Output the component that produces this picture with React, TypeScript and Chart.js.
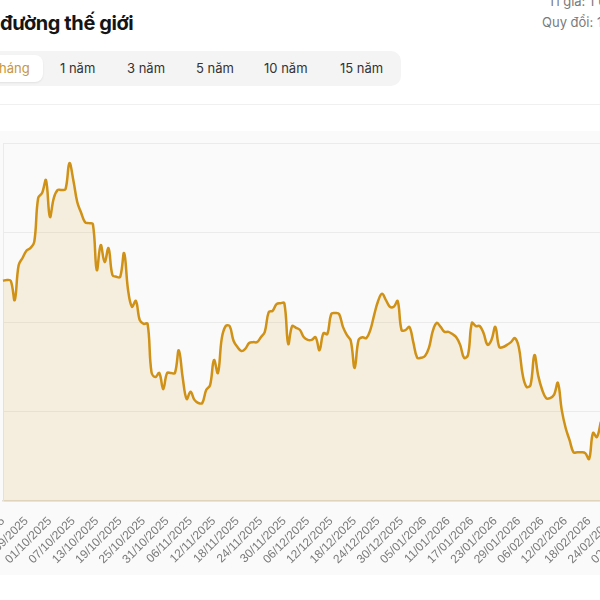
import React, { useEffect, useRef } from "react";
import { Chart, registerables } from "chart.js";

Chart.register(...registerables);

// ---- data ----
const START_DATE = [2025, 9, 19]; // first category (19/09/2025)
const MISSING_DATES = ["31/01/2026", "01/02/2026"]; // days absent from the series
const LABEL_COUNT = 163; // categories through 02/03/2026
const TICK_EVERY = 6;

// world sugar price (USD/tấn), one value per category
const prices = [
  449.2, 449.4, 449.2, 444.9, 452.7, 454.3, 455.9, 456.5, 457.9, 467.7,
  468.8, 471.7, 463.5, 467.7, 469.5, 469.5, 469.7, 475.5, 471.7, 466.8,
  464.4, 462.3, 462.1, 461.9, 451.6, 457.2, 453.4, 456.5, 450.5, 450.1,
  450.1, 455.4, 447.2, 443.4, 444.7, 440.4, 439.6, 439.6, 428.8, 427.7,
  428.6, 425.0, 428.6, 428.6, 428.6, 433.7, 427.5, 422.8, 424.4, 422.6,
  421.9, 421.9, 424.8, 425.9, 431.5, 428.6, 436.4, 439.1, 439.1, 435.8,
  434.4, 433.5, 434.0, 435.3, 435.5, 435.5, 436.6, 437.8, 442.2, 442.5,
  444.0, 444.2, 444.2, 435.1, 439.1, 438.7, 438.2, 436.6, 436.0, 436.0,
  436.6, 433.7, 437.5, 437.3, 441.8, 442.0, 441.8, 438.9, 437.1, 435.8,
  429.7, 436.0, 436.6, 436.4, 438.2, 441.6, 444.7, 446.3, 444.9, 443.4,
  443.4, 444.7, 438.2, 438.2, 438.9, 435.5, 432.0, 432.0, 432.4, 434.2,
  438.0, 439.8, 438.9, 437.8, 437.8, 437.3, 436.6, 434.9, 432.0, 432.6,
  439.8, 439.1, 439.1, 437.5, 434.9, 436.0, 438.9, 434.4, 434.4, 434.9,
  435.5, 436.4, 434.4, 428.2, 425.5, 425.9, 432.6, 427.9, 424.8, 423.0,
  423.0, 423.7, 426.4, 420.3, 416.3, 413.6, 410.9, 410.9, 410.9, 410.7,
  409.4, 415.2, 414.3, 417.7,
];

const Y_MIN = 400;
const Y_MAX = 480;
const Y_STEP = 20;

const TABS = ["6 tháng", "1 năm", "3 năm", "5 năm", "10 năm", "15 năm"];
const TITLE = "đường thế giới";
const RATE_LINE = "Tỉ giá: 1 USD";
const CONVERT_LINE = "Quy đổi: 1 tấn";

function pad(n: number) {
  return n < 10 ? "0" + n : String(n);
}

function buildLabels(): string[] {
  const out: string[] = [];
  const d = new Date(Date.UTC(START_DATE[0], START_DATE[1] - 1, START_DATE[2]));
  while (out.length < LABEL_COUNT) {
    const s = `${pad(d.getUTCDate())}/${pad(d.getUTCMonth() + 1)}/${d.getUTCFullYear()}`;
    if (!MISSING_DATES.includes(s)) out.push(s);
    d.setUTCDate(d.getUTCDate() + 1);
  }
  return out;
}

const labels = buildLabels();

export default function App() {
  const ref = useRef<HTMLCanvasElement | null>(null);

  useEffect(() => {
    if (!ref.current) return;
    const series = labels.map((_, i) => (i < prices.length ? prices[i] : null));
    const chart = new Chart(ref.current, {
      type: "line",
      data: {
        labels,
        datasets: [
          {
            data: series,
            borderColor: "#cf9116",
            borderWidth: 2.5,
            backgroundColor: "rgba(212,148,15,0.12)",
            fill: "start",
            tension: 0.4,
            pointRadius: 0,
            pointHoverRadius: 0,
          },
        ],
      },
      options: {
        animation: false,
        responsive: false,
        maintainAspectRatio: false,
        layout: { padding: { top: 12, right: 30, bottom: 0, left: 0 } },
        plugins: { legend: { display: false }, tooltip: { enabled: false } },
        scales: {
          x: {
            grid: { display: false },
            border: { display: true, color: "#e2ddd5", width: 1.5 },
            ticks: {
              autoSkip: false,
              maxRotation: 45,
              minRotation: 45,
              padding: 5,
              color: "#7a7a7a",
              font: { size: 12, family: "'Liberation Sans', Arial, sans-serif" },
              callback: (_v: any, i: number) => (i % TICK_EVERY === 0 ? labels[i] : ""),
            },
            afterFit: (s: any) => {
              s.height = 74;
            },
          },
          y: {
            min: Y_MIN,
            max: Y_MAX,
            ticks: { stepSize: Y_STEP, display: false },
            grid: { color: "#ebebeb", drawTicks: false },
            border: { display: true, color: "#ebebeb" },
            afterFit: (s: any) => {
              s.width = 80;
            },
          },
        },
      },
    });
    return () => chart.destroy();
  }, []);

  const tabLefts = [-17, 60, 127, 196, 264, 340];

  return (
    <div
      style={{
        position: "fixed",
        left: 0,
        top: 0,
        width: 600,
        height: 600,
        overflow: "hidden",
        background: "#ffffff",
        fontFamily: "Inter, 'Noto Sans', sans-serif",
      }}
    >
      {/* title */}
      <div
        style={{
          position: "absolute",
          left: 0,
          top: 13,
          fontSize: 20,
          lineHeight: "20px",
          fontWeight: 700,
          letterSpacing: "-0.02em",
          color: "#151515",
          whiteSpace: "nowrap",
        }}
      >
        {TITLE}
      </div>
      {/* right info */}
      <div
        style={{
          position: "absolute",
          left: 548,
          top: -5,
          fontSize: 13,
          lineHeight: "13px",
          color: "#7a7a7a",
          whiteSpace: "nowrap",
        }}
      >
        {RATE_LINE}
      </div>
      <div
        style={{
          position: "absolute",
          left: 542,
          top: 16,
          fontSize: 13,
          lineHeight: "13px",
          color: "#7a7a7a",
          whiteSpace: "nowrap",
        }}
      >
        {CONVERT_LINE}
      </div>
      {/* tabs */}
      <div
        style={{
          position: "absolute",
          left: -80,
          top: 51,
          width: 481,
          height: 35,
          borderRadius: 10,
          background: "#f4f4f4",
        }}
      />
      <div
        style={{
          position: "absolute",
          left: -31,
          top: 55,
          width: 74,
          height: 27,
          borderRadius: 8,
          background: "#ffffff",
          boxShadow: "0 1px 2px rgba(0,0,0,0.08)",
        }}
      />
      {TABS.map((t, i) => (
        <div
          key={t}
          style={{
            position: "absolute",
            left: tabLefts[i],
            top: 62,
            fontSize: 13,
            lineHeight: "13px",
            color: i === 0 ? "#c8963c" : "#333333",
            whiteSpace: "nowrap",
          }}
        >
          {t}
        </div>
      ))}
      {/* separator */}
      <div
        style={{
          position: "absolute",
          left: 0,
          top: 104,
          width: 600,
          height: 1,
          background: "#f0f0f0",
        }}
      />
      {/* chart card */}
      <div
        style={{
          position: "absolute",
          left: -80,
          top: 131,
          width: 770,
          height: 444,
          background: "#fafafa",
        }}
      />
      <canvas
        ref={ref}
        width={743}
        height={444}
        style={{ position: "absolute", left: -77, top: 131, width: 743, height: 444 }}
      />
    </div>
  );
}
